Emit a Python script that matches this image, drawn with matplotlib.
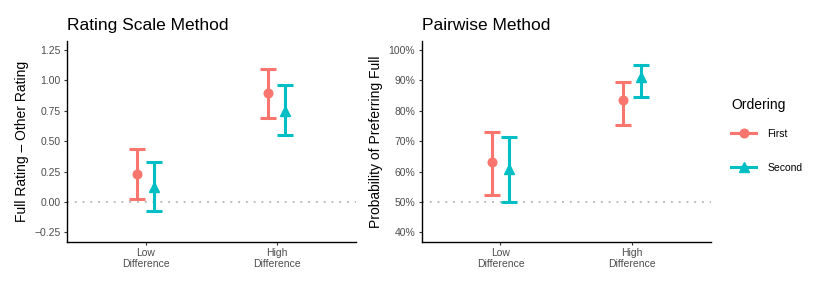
import matplotlib
matplotlib.use("Agg")
import matplotlib.pyplot as plt
from matplotlib.lines import Line2D
import numpy as np
from matplotlib.ticker import FixedLocator, FuncFormatter

plt.rcParams['font.family'] = ['Liberation Sans', 'DejaVu Sans']

categories = ["Low\nDifference", "High\nDifference"]
orderings = ["First", "Second"]
colors = ["#F8766D", "#00BFC4"]
markers = ["o", "^"]

# Rating scale method: estimate, lower, upper per ordering (Low, High)
rating_est = {"First": [0.228, 0.894], "Second": [0.126, 0.748]}
rating_lo = {"First": [0.027, 0.693], "Second": [-0.074, 0.554]}
rating_hi = {"First": [0.436, 1.094], "Second": [0.326, 0.960]}

# Pairwise method: probability of preferring full
pair_est = {"First": [0.632, 0.834], "Second": [0.609, 0.912]}
pair_lo = {"First": [0.522, 0.752], "Second": [0.499, 0.846]}
pair_hi = {"First": [0.731, 0.895], "Second": [0.712, 0.949]}

rating_ticks = [-0.25, 0.0, 0.25, 0.5, 0.75, 1.0, 1.25]
pair_ticks = [0.4, 0.5, 0.6, 0.7, 0.8, 0.9, 1.0]

W, H = 830, 288
fig = plt.figure(figsize=(W / 100, H / 100), dpi=100)
ax1 = fig.add_axes([67 / W, 1 - 242 / H, 288.6 / W, 201 / H])
ax2 = fig.add_axes([421.5 / W, 1 - 242 / H, 289.5 / W, 201 / H])

dodge = [-0.065, 0.065]
x = np.arange(1, len(categories) + 1)
msize = {"o": 6.2, "^": 6.8}


def draw(ax, est, lo, hi, ref):
    ax.axhline(ref, color="#BDBDBD", lw=1.4, ls=(0, (1, 3)), zorder=1)
    for i, o in enumerate(orderings):
        xs = x + dodge[i]
        e = np.array(est[o])
        yerr = np.vstack([e - np.array(lo[o]), np.array(hi[o]) - e])
        ax.errorbar(xs, e, yerr=yerr, fmt="none", ecolor=colors[i],
                    elinewidth=2.2, capsize=5.8, capthick=2.2, zorder=2)
        ax.plot(xs, e, ls="none", marker=markers[i], color=colors[i],
                markersize=msize[markers[i]], zorder=3)
    ax.set_xlim(0.4, 2.6)
    ax.set_xticks(x)
    ax.set_xticklabels(categories, color="#4D4D4D", fontsize=7.5,
                       linespacing=1.15)
    for s in ["top", "right"]:
        ax.spines[s].set_visible(False)
    for s in ["left", "bottom"]:
        ax.spines[s].set_linewidth(1.0)
        ax.spines[s].set_color("black")
    ax.tick_params(axis="both", length=2.5, width=0.8, color="#333333",
                   labelsize=7.5, labelcolor="#4D4D4D", pad=2)


draw(ax1, rating_est, rating_lo, rating_hi, 0.0)
ax1.set_ylim(-0.329, 1.324)
ax1.yaxis.set_major_locator(FixedLocator(rating_ticks))
ax1.yaxis.set_major_formatter(FuncFormatter(
    lambda v, p: ("\u2212" if v < 0 else "") + f"{abs(v):.2f}"))
ax1.set_ylabel("Full Rating \u2013 Other Rating", fontsize=10, labelpad=4)
ax1.set_title("Rating Scale Method", loc="left", fontsize=12.5, pad=8)

draw(ax2, pair_est, pair_lo, pair_hi, 0.5)
ax2.set_ylim(0.368, 1.0296)
ax2.yaxis.set_major_locator(FixedLocator(pair_ticks))
ax2.yaxis.set_major_formatter(FuncFormatter(lambda v, p: f"{v * 100:.0f}%"))
ax2.set_ylabel("Probability of Preferring Full", fontsize=10, labelpad=4)
ax2.set_title("Pairwise Method", loc="left", fontsize=12.5, pad=8)

handles = [Line2D([0], [0], color=colors[i], lw=2.2, marker=markers[i],
                  markersize=msize[markers[i]]) for i in range(2)]
leg = fig.legend(handles, orderings, title="Ordering", loc="upper left",
                 bbox_to_anchor=(731 / W, 1 - 98 / H), frameon=False,
                 fontsize=7.5, title_fontsize=10, handlelength=2.4,
                 labelspacing=2.3, alignment="left", borderaxespad=0,
                 handletextpad=1.1, borderpad=0)
leg._legend_box.sep = 12

fig.savefig("out.png", dpi=100)
